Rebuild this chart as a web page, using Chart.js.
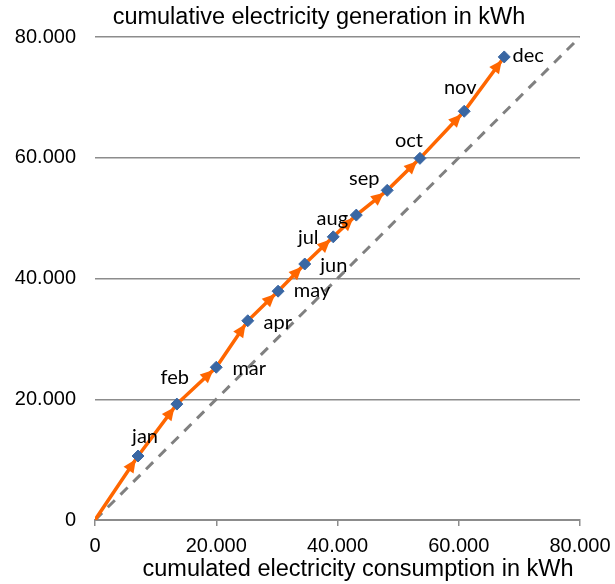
<!DOCTYPE html>
<html>
<head>
<meta charset="utf-8">
<script src="https://cdn.jsdelivr.net/npm/chart.js@4.4.1/dist/chart.umd.min.js"></script>
<style>
  html, body { margin: 0; padding: 0; background: #fff; }
</style>
</head>
<body>
<canvas id="gen-vs-cons" width="615" height="584"></canvas>
<script>
// months and cumulated values (kWh)
const months = ["jan", "feb", "mar", "apr", "may", "jun", "jul", "aug", "sep", "oct", "nov", "dec"];
const consumption = [7100, 13500, 20000, 25200, 30200, 34600, 39300, 43100, 48200, 53600, 60900, 67500];
const generation = [10600, 19200, 25300, 33000, 37900, 42400, 46900, 50500, 54600, 59900, 67700, 76700];
const diagonal = [0, 80000];
const axisTicks = [0, 20000, 40000, 60000, 80000];

// label offsets around each marker (px)
const labelOffsets = [
    [7, -19], [-2, -27], [33, 1], [30, 2], [34, -1], [29, 2],
    [-25, 1], [-24, 3], [-23, -12], [-11, -18], [-4, -24], [24, -1],
];

const formatNum = (v) => String(v).replace(/\B(?=(\d{3})+(?!\d))/g, ".");

// line starts at the origin
const linePoints = [{ x: 0, y: 0 }].concat(
    consumption.map((c, i) => ({ x: c, y: generation[i] }))
);
const markerPoints = consumption.map((c, i) => ({ x: c, y: generation[i] }));

// arrow heads at the end of each segment + month labels + axis titles
const arrowPlugin = {
    id: "arrows",
    afterDatasetDraw(chart, args) {
        if (args.index !== 1) return;
        const ctx = chart.ctx;
        const xs = chart.scales.x;
        const ys = chart.scales.y;
        ctx.save();
        ctx.fillStyle = "#ff6600";
        for (let i = 1; i < linePoints.length; i++) {
            const x0 = xs.getPixelForValue(linePoints[i - 1].x);
            const y0 = ys.getPixelForValue(linePoints[i - 1].y);
            const x1 = xs.getPixelForValue(linePoints[i].x);
            const y1 = ys.getPixelForValue(linePoints[i].y);
            const ang = Math.atan2(y1 - y0, x1 - x0);
            const tx = x1 - Math.cos(ang) * 4;
            const ty = y1 - Math.sin(ang) * 4;
            const len = 13, half = 6;
            const bx = tx - Math.cos(ang) * len;
            const by = ty - Math.sin(ang) * len;
            ctx.beginPath();
            ctx.moveTo(tx, ty);
            ctx.lineTo(bx - Math.sin(ang) * half, by + Math.cos(ang) * half);
            ctx.lineTo(bx + Math.sin(ang) * half, by - Math.cos(ang) * half);
            ctx.closePath();
            ctx.fill();
        }
        ctx.restore();
    },
    afterDraw(chart) {
        const ctx = chart.ctx;
        const xs = chart.scales.x;
        const ys = chart.scales.y;
        ctx.save();
        ctx.fillStyle = "#000";
        ctx.textAlign = "center";
        ctx.textBaseline = "middle";
        ctx.font = "20px Lato";
        months.forEach((m, i) => {
            const px = xs.getPixelForValue(consumption[i]) + labelOffsets[i][0];
            const py = ys.getPixelForValue(generation[i]) + labelOffsets[i][1];
            ctx.fillText(m, px, py);
        });
        ctx.font = "23.5px 'Liberation Sans'";
        ctx.fillText("cumulative electricity generation in kWh", 319, 18);
        ctx.fillText("cumulated electricity consumption in kWh", 358, 570);
        ctx.restore();
    },
};

new Chart(document.getElementById("gen-vs-cons"), {
    type: "scatter",
    data: {
        datasets: [
            {
                label: "markers",
                data: markerPoints,
                showLine: false,
                pointStyle: "rectRot",
                pointRadius: 6,
                pointBackgroundColor: "#3a67a3",
                pointBorderColor: "#3a67a3",
                pointBorderWidth: 1,
                order: 0,
            },
            {
                label: "generation",
                data: linePoints,
                showLine: true,
                borderColor: "#ff6600",
                borderWidth: 3.5,
                pointRadius: 0,
                order: 1,
            },
            {
                label: "1:1",
                data: diagonal.map((v) => ({ x: v, y: v })),
                showLine: true,
                borderColor: "#808080",
                borderWidth: 3,
                borderDash: [10, 8],
                pointRadius: 0,
                order: 2,
            },
        ],
    },
    options: {
        responsive: false,
        animation: false,
        layout: { padding: { left: 0, right: 35, top: 37, bottom: 0 } },
        plugins: {
            legend: { display: false },
            tooltip: { enabled: false },
        },
        scales: {
            x: {
                type: "linear",
                min: 0,
                max: 80000,
                afterBuildTicks: (axis) => { axis.ticks = axisTicks.map((v) => ({ value: v })); },
                afterFit: (axis) => {
                    axis.height = 64;
                    axis.paddingRight = 0;
                    axis.paddingLeft = 0;
                },
                border: { display: true, color: "#8c8c8c", width: 2 },
                grid: { drawOnChartArea: false, drawTicks: true, tickLength: 6, color: "#8c8c8c", lineWidth: 1.5 },
                ticks: {
                    color: "#000",
                    padding: 8,
                    maxRotation: 0,
                    font: { family: "'Liberation Sans'", size: 20 },
                    callback: (v) => formatNum(v),
                },
            },
            y: {
                type: "linear",
                min: 0,
                max: 80000,
                afterBuildTicks: (axis) => { axis.ticks = axisTicks.map((v) => ({ value: v })); },
                afterFit: (axis) => { axis.width = 95; },
                border: { display: false },
                grid: { drawTicks: false, color: "#8c8c8c", lineWidth: 1.5 },
                ticks: {
                    color: "#000",
                    padding: 19,
                    font: { family: "'Liberation Sans'", size: 20 },
                    callback: (v) => formatNum(v),
                },
            },
        },
    },
    plugins: [arrowPlugin],
});
</script>
</body>
</html>
